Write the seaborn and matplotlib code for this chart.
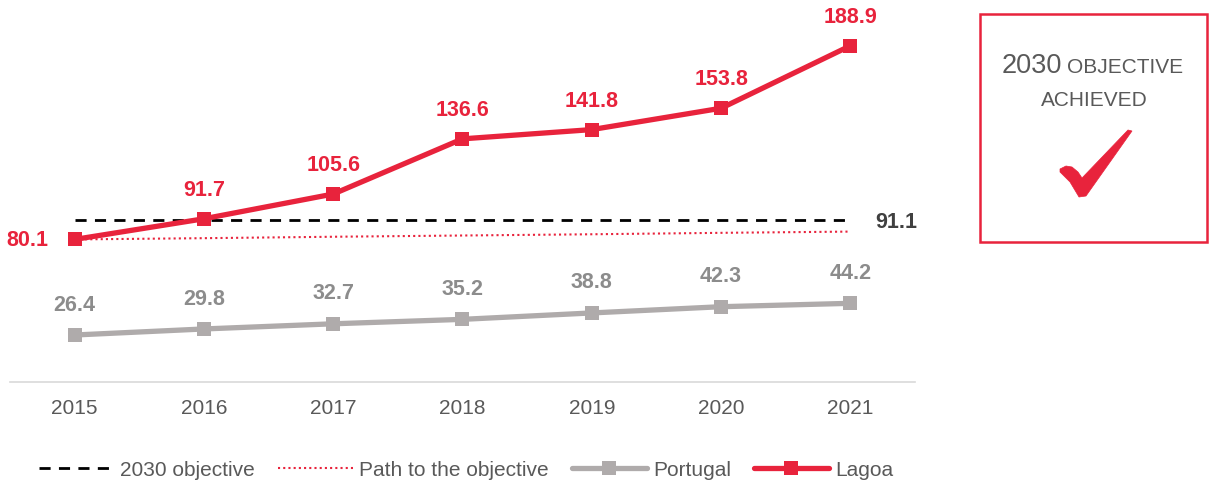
import matplotlib
matplotlib.use("Agg")
import matplotlib.pyplot as plt
from matplotlib.patches import Rectangle, Polygon
import seaborn as sns
import pandas as pd

years = [2015, 2016, 2017, 2018, 2019, 2020, 2021]
lagoa = [80.1, 91.7, 105.6, 136.6, 141.8, 153.8, 188.9]
portugal = [26.4, 29.8, 32.7, 35.2, 38.8, 42.3, 44.2]
objective = [91.1, 91.1, 91.1, 91.1, 91.1, 91.1, 91.1]
path = [80.1, 80.8, 81.6, 82.3, 83.0, 83.8, 84.5]

RED = "#E8233C"
GREY = "#AFABAB"
LABEL_GREY = "#8C8C8C"
TXT = "#595959"

sns.set_style("white")
plt.rcParams["font.family"] = ["Liberation Sans", "DejaVu Sans"]

W, H = 1210, 488
fig = plt.figure(figsize=(W / 100, H / 100), dpi=100)
ax = fig.add_axes([10 / W, 106 / H, 905 / W, 356 / H])

df = pd.DataFrame({"year": years, "Lagoa": lagoa, "Portugal": portugal,
                   "objective": objective, "path": path})

sns.lineplot(data=df, x="year", y="objective", ax=ax, color="black", lw=2,
             linestyle=(0, (4, 3)), label="2030 objective")
sns.lineplot(data=df, x="year", y="path", ax=ax, color=RED, lw=1.5,
             linestyle=(0, (1, 1.5)), label="Path to the objective")
sns.lineplot(data=df, x="year", y="Portugal", ax=ax, color=GREY, lw=3.8,
             marker="s", markersize=10.5, markeredgewidth=0, label="Portugal")
sns.lineplot(data=df, x="year", y="Lagoa", ax=ax, color=RED, lw=3.8,
             marker="s", markersize=10.5, markeredgewidth=0, label="Lagoa")

LBL = 15.5
for x, v in zip(years, lagoa):
    if x == 2015:
        ax.annotate(f"{v:.1f}", (x, v), xytext=(-19, -1), textcoords="offset points",
                    ha="right", va="center", color=RED, fontsize=LBL, fontweight="bold")
    else:
        ax.annotate(f"{v:.1f}", (x, v), xytext=(0, 13), textcoords="offset points",
                    ha="center", va="bottom", color=RED, fontsize=LBL, fontweight="bold")
for x, v in zip(years, portugal):
    ax.annotate(f"{v:.1f}", (x, v), xytext=(0, 14), textcoords="offset points",
                ha="center", va="bottom", color=LABEL_GREY, fontsize=LBL, fontweight="bold")
ax.annotate(f"{objective[-1]:.1f}", (years[-1], objective[-1]), xytext=(18, -2),
            textcoords="offset points", ha="left", va="center", color="#404040",
            fontsize=LBL, fontweight="bold")

ax.set_xlim(2014.5, 2021.5)
ax.set_ylim(0, 200)
ax.set_xticks(years)
ax.set_xticklabels([str(y) for y in years], fontsize=15, color=TXT)
ax.tick_params(axis="x", length=0, pad=12)
ax.set_yticks([])
ax.set_xlabel("")
ax.set_ylabel("")
for s in ["top", "right", "left"]:
    ax.spines[s].set_visible(False)
ax.spines["bottom"].set_color("#D9D9D9")
ax.spines["bottom"].set_linewidth(1.2)

leg = ax.legend(loc="center", bbox_to_anchor=(456 / 905, -88 / 356), ncol=4, frameon=False,
                fontsize=15, handlelength=3.6, handletextpad=0.3, columnspacing=1.1)
for t in leg.get_texts():
    t.set_color(TXT)

# objective box
fig.patches.append(Rectangle((980 / W, 1 - 242 / H), 227 / W, 228 / H, transform=fig.transFigure,
                             fill=False, edgecolor=RED, lw=1.8))
fig.text(1002 / W, 1 - 66 / H, "2030", fontsize=19.5, color=TXT, ha="left", va="center")
fig.text(1067 / W, 1 - 67 / H, "OBJECTIVE", fontsize=15, color=TXT, ha="left", va="center")
fig.text(1094 / W, 1 - 100 / H, "ACHIEVED", fontsize=15, color=TXT, ha="center", va="center")
check = [(1060, 169), (1066, 166), (1072, 167), (1078, 172), (1082, 178), (1128, 130),
         (1132, 131), (1086, 196), (1079, 197), (1070, 182), (1060, 172)]
fig.patches.append(Polygon([(px / W, 1 - py / H) for px, py in check], closed=True,
                           transform=fig.transFigure, facecolor=RED, edgecolor=RED, lw=0.5))

fig.savefig("out.png", dpi=100)
